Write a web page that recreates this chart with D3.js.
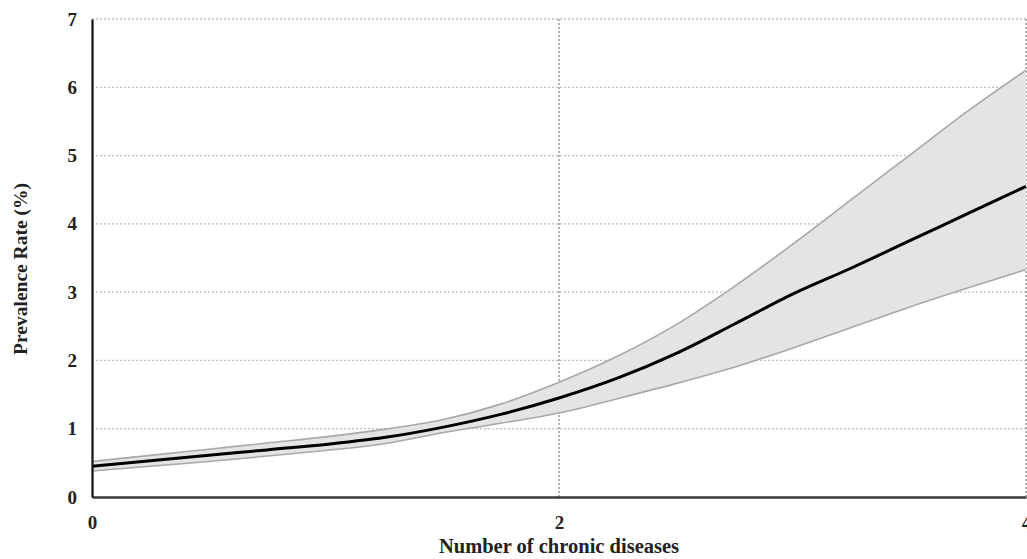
<!doctype html>
<html lang="en">
  <head>
    <meta charset="utf-8">
    <title>Prevalence Rate by Number of chronic diseases</title>
    <style>
      body { margin: 0; background: #fff; }
    </style>
  </head>
  <body>
    <div id="main-chart"></div>

    <script src="https://d3js.org/d3.v7.min.js"></script>

    <script>
      // Data
      var diseases = [0, 0.25, 0.5, 0.75, 1, 1.25, 1.5, 1.75, 2, 2.25, 2.5, 2.75, 3, 3.25, 3.5, 3.75, 4];
      var rate     = [0.45, 0.53, 0.61, 0.69, 0.77, 0.87, 1.02, 1.21, 1.45, 1.74, 2.10, 2.53, 2.97, 3.35, 3.75, 4.15, 4.55];
      var upper    = [0.52, 0.61, 0.70, 0.79, 0.88, 0.99, 1.13, 1.36, 1.68, 2.06, 2.52, 3.08, 3.70, 4.35, 5.00, 5.65, 6.25];
      var lower    = [0.38, 0.45, 0.52, 0.60, 0.68, 0.78, 0.94, 1.08, 1.23, 1.44, 1.66, 1.90, 2.18, 2.48, 2.78, 3.06, 3.33];
      var xTicks = [0, 2, 4];
      var yTicks = [0, 1, 2, 3, 4, 5, 6, 7];

      var serif = "'Liberation Serif', 'Times New Roman', Times, serif";

      // Set params
      var margin = {top: 19, right: 1, bottom: 62, left: 92},
          width = 1027 - margin.left - margin.right,
          height = 559 - margin.top - margin.bottom;

      var svg = d3.select("#main-chart")
        .append("svg")
        .attr("width", 1027)
        .attr("height", 559)
        .append("g")
        .attr("transform", "translate(" + margin.left + "," + margin.top + ")");

      var x = d3.scaleLinear().domain([0, 4]).range([0, width]);
      var y = d3.scaleLinear().domain([0, 7]).range([height, 0]);

      var data = diseases.map(function(d, i) {
        return {x: d, mean: rate[i], hi: upper[i], lo: lower[i]};
      });

      // Horizontal grid
      svg.append("g")
        .selectAll("line")
        .data(yTicks.slice(1))
        .enter().append("line")
        .attr("x1", 0)
        .attr("x2", width)
        .attr("y1", function(d) { return y(d); })
        .attr("y2", function(d) { return y(d); })
        .attr("stroke", "#bdbdbd")
        .attr("stroke-width", 1.3)
        .attr("stroke-dasharray", "2,2");

      // Vertical grid
      svg.append("g")
        .selectAll("line")
        .data(xTicks.slice(1))
        .enter().append("line")
        .attr("x1", function(d) { return x(d); })
        .attr("x2", function(d) { return x(d); })
        .attr("y1", 0)
        .attr("y2", height)
        .attr("stroke", "#8a8a8a")
        .attr("stroke-width", 1.3)
        .attr("stroke-dasharray", "2,2");

      // Confidence band
      var area = d3.area()
        .curve(d3.curveMonotoneX)
        .x(function(d) { return x(d.x); })
        .y0(function(d) { return y(d.lo); })
        .y1(function(d) { return y(d.hi); });

      svg.append("path")
        .datum(data)
        .attr("d", area)
        .attr("fill", "#e4e4e4");

      var hiLine = d3.line().curve(d3.curveMonotoneX)
        .x(function(d) { return x(d.x); })
        .y(function(d) { return y(d.hi); });
      var loLine = d3.line().curve(d3.curveMonotoneX)
        .x(function(d) { return x(d.x); })
        .y(function(d) { return y(d.lo); });

      svg.append("path").datum(data).attr("d", hiLine)
        .attr("fill", "none").attr("stroke", "#a8a8a8").attr("stroke-width", 1.6);
      svg.append("path").datum(data).attr("d", loLine)
        .attr("fill", "none").attr("stroke", "#a8a8a8").attr("stroke-width", 1.6);

      // Mean line
      var meanLine = d3.line().curve(d3.curveMonotoneX)
        .x(function(d) { return x(d.x); })
        .y(function(d) { return y(d.mean); });

      svg.append("path")
        .datum(data)
        .attr("d", meanLine)
        .attr("fill", "none")
        .attr("stroke", "#000")
        .attr("stroke-width", 3);

      // X axis
      var xAxis = svg.append("g")
        .attr("transform", "translate(0," + height + ")")
        .call(d3.axisBottom(x).tickValues(xTicks).tickSize(0).tickPadding(19).tickFormat(d3.format("d")));
      xAxis.attr("font-family", serif).attr("font-size", 19);
      xAxis.select(".domain").attr("stroke", "#3a3a3a").attr("stroke-width", 2.5);
      xAxis.selectAll("text").style("font-family", serif).style("font-weight", "bold").attr("fill", "#222");

      // Y axis
      var yAxis = svg.append("g")
        .call(d3.axisLeft(y).tickValues(yTicks).tickSize(0).tickPadding(15).tickFormat(d3.format("d")));
      yAxis.attr("font-family", serif).attr("font-size", 19);
      yAxis.select(".domain").attr("stroke", "#111").attr("stroke-width", 2.2);
      yAxis.selectAll("text").style("font-family", serif).style("font-weight", "bold").attr("fill", "#222");

      // Axis titles
      svg.append("text")
        .attr("x", x(2))
        .attr("y", height + 56)
        .attr("text-anchor", "middle")
        .style("font-family", serif)
        .style("font-weight", "bold")
        .style("font-size", "20.5px")
        .attr("fill", "#222")
        .text("Number of chronic diseases");

      svg.append("text")
        .attr("transform", "translate(" + (-65) + "," + (y(3.5) + 11) + ")rotate(-90)")
        .attr("text-anchor", "middle")
        .style("font-family", serif)
        .style("font-weight", "bold")
        .style("font-size", "19.5px")
        .attr("fill", "#222")
        .text("Prevalence Rate (%)");
    </script>
  </body>
</html>
